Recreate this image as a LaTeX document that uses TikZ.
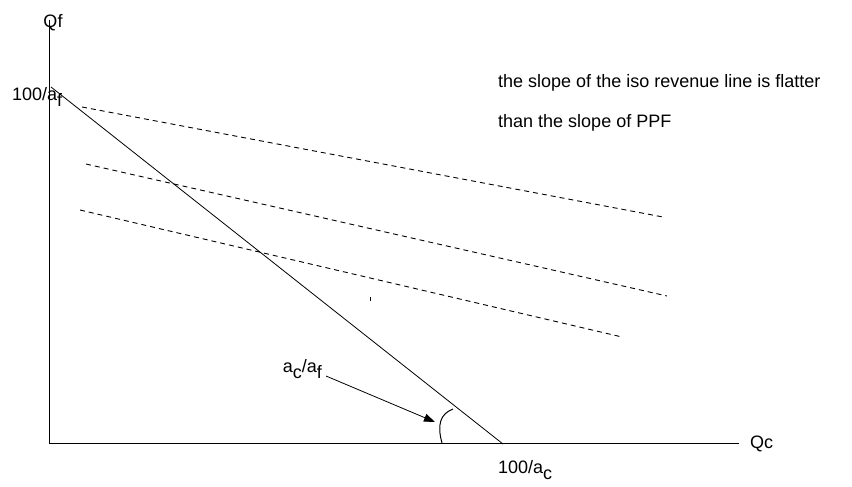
\documentclass[tikz,border=0pt]{standalone}
\usepackage{fontspec}
\setmainfont{Liberation Sans}
\usetikzlibrary{arrows.meta}
\newcommand{\lowsub}[1]{\raisebox{-0.35em}{#1}}
\begin{document}
\begin{tikzpicture}[x=1pt,y=-1pt,
  thinline/.style={line width=0.8pt},
  isoline/.style={line width=0.9pt,dash pattern=on 5pt off 4pt},
  lbl/.style={inner sep=0pt,font=\fontsize{18}{20}\selectfont}]
\useasboundingbox (0,0) rectangle (852,487);
% axes
\coordinate (O) at (49,443);
\coordinate (ytop) at (49,20);
\coordinate (xend) at (739,443);
\draw[thinline] (ytop) -- (O) -- (xend);
% PPF
\coordinate (ppfA) at (51,87);
\coordinate (ppfB) at (503,444);
\draw[thinline] (ppfA) -- (ppfB);
% iso revenue lines
\coordinate (i1a) at (82,107); \coordinate (i1b) at (663,217);
\coordinate (i2a) at (86,164); \coordinate (i2b) at (667,296);
\coordinate (i3a) at (80,210); \coordinate (i3b) at (622,337);
\draw[isoline] (i1a) -- (i1b);
\draw[isoline] (i2a) -- (i2b);
\draw[isoline] (i3a) -- (i3b);
% stray tick
\coordinate (tk1) at (370,297); \coordinate (tk2) at (370,301);
\draw[line width=0.8pt] (tk1) -- (tk2);
% angle arc
\coordinate (arcA) at (442,443);
\coordinate (arcB) at (453,409);
\draw[line width=1pt] (arcA) .. controls (437,425) and (440,414) .. (arcB);
% labels
\node[lbl,anchor=base] (qf) at (53,28) {Qf};
\node[lbl,anchor=base west] (qc) at (750,448) {Qc};
\node[lbl,anchor=base west] (af) at (12,100) {100/a\lowsub{f}};
\node[lbl,anchor=base west] (ac) at (498,473) {100/a\lowsub{c}};
\node[lbl,anchor=base west] (t1) at (498,88) {the slope of the iso revenue line is flatter};
\node[lbl,anchor=base west] (t2) at (498,128) {than the slope of PPF};
\node[lbl,anchor=base east] (ratio) at (322,372) {a\lowsub{c}/a\lowsub{f}};
% arrow
\coordinate (arrS) at (326,376);
\coordinate (arrT) at (435,422);
\draw[thinline,-{Triangle[length=11pt,width=8pt]}] (arrS) -- (arrT);
\end{tikzpicture}
\end{document}
